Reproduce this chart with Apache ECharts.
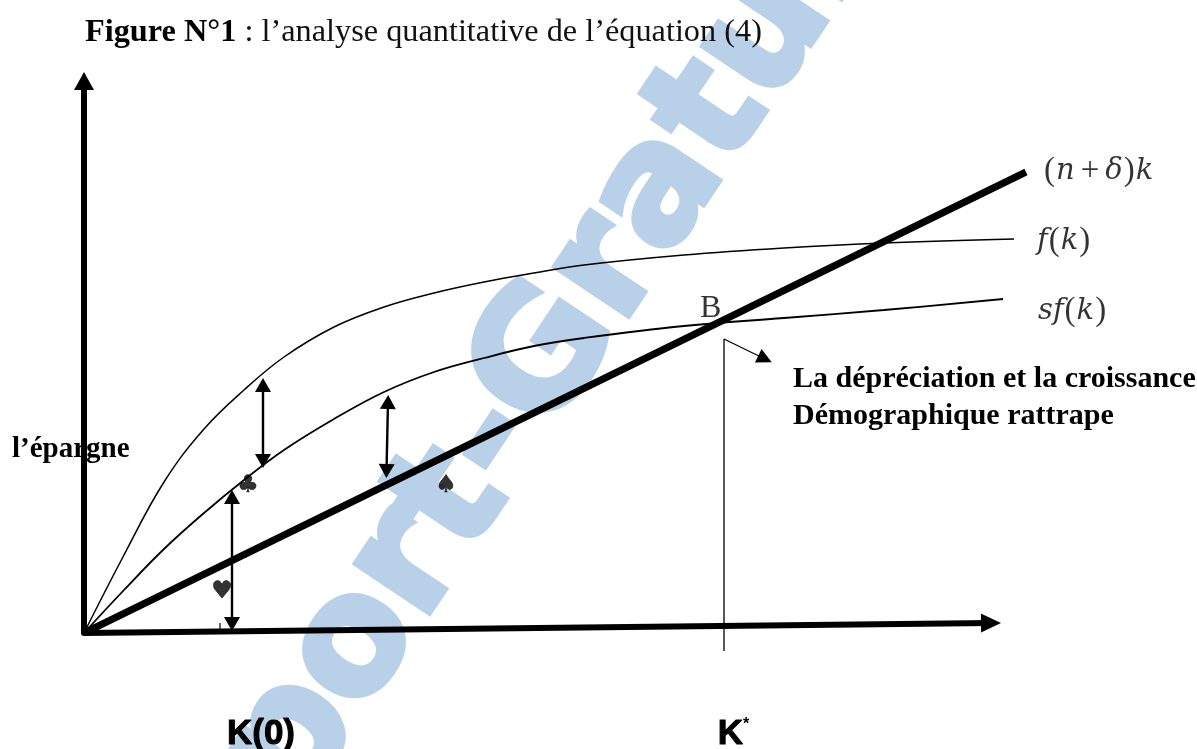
<!DOCTYPE html>
<html>
<head>
<meta charset="utf-8">
<title>Figure N°1</title>
<script src="https://cdn.jsdelivr.net/npm/echarts@6/dist/echarts.min.js"></script>
<style>
  html, body { margin: 0; padding: 0; background: #fff; }
  #chart { width: 1197px; height: 749px; }
</style>
</head>
<body>
<div id="chart"></div>
<script>
// courbes, unites = distance a l'origine
const fk = [[0,0],[40,78],[80,151],[120,204],[160,243],[200,276],[250,306],[300,326],[350,340],[400,351],[450,360],[500,368],[600,378],[700,385],[800,390],[930,394]];
const sfk = [[0,0],[40,43],[80,84],[120,120],[160,153],[200,183],[250,214],[300,241],[350,261],[400,275],[450,287],[500,295],[600,307],[700,315],[800,323],[919,334]];
const droite = [[0,0],[942,461]];
const axeK = [[0,0],[907,10]];
const kTicks = [177, 649.5];
const kLabels = ['K(0)', 'K*'];
const fleches = [
  [[148,136],[148,9]],
  [[179,248],[179,172]],
  [[304,231],[302.5,162]]
];
const repereK = [[640,-18],[640,294],[681,274]];
const tick0 = [[136,1],[136,10]];
const symboles = [[164,147,'♣'],[362,147,'♠'],[138,41,'♥']];
const etiquettes = [
  [959,462,'{u|(}{i|n}{p|+}{i|δ}{u|)}{i|k}'],
  [953,392,'{i|f}{u|(}{i|k}{u|)}'],
  [954,322,'{i|s}{i|f}{u|(}{i|k}{u|)}'],
  [616,324,'{b|B}']
];

const chart = echarts.init(document.getElementById('chart'));
chart.setOption({
  animation: false,
  backgroundColor: '#fff',
  title: {
    left: 80, top: 12,
    text: '{b|Figure N°1} : l’analyse quantitative de l’équation (4)',
    textStyle: {
      fontFamily: 'Liberation Serif', fontSize: 32.3, fontWeight: 'normal', color: '#111',
      rich: { b: { fontFamily: 'Liberation Serif', fontSize: 32.3, fontWeight: 'bold', color: '#000' } }
    }
  },
  grid: { left: 84, top: 81, width: 950, height: 552, outerBoundsMode: 'none' },
  xAxis: {
    type: 'value', min: 0, max: 950,
    splitLine: { show: false },
    axisLine: { show: false },
    axisTick: { show: false },
    axisLabel: {
      show: true,
      customValues: kTicks,
      margin: 84,
      formatter: function (v) {
        const s = kLabels[kTicks.indexOf(v)] || '';
        return s.endsWith('*') ? '{k|' + s.slice(0, -1) + '}{e|*}' : '{k|' + s + '}';
      },
      rich: {
        k: { fontFamily: 'Liberation Sans', fontWeight: 'bold', fontSize: 35, color: '#000', textBorderColor: '#000', textBorderWidth: 1 },
        e: { fontFamily: 'Liberation Sans', fontWeight: 'bold', fontSize: 16, color: '#000', verticalAlign: 'top', padding: [0, 0, 14, 0] }
      }
    }
  },
  yAxis: {
    type: 'value', min: 0, max: 552,
    splitLine: { show: false },
    axisTick: { show: false },
    axisLabel: { show: false },
    axisLine: { show: true, symbol: ['none', 'triangle'], symbolSize: [20, 18], lineStyle: { color: '#000', width: 6 } }
  },
  graphic: [
    {
      type: 'text', x: 469, y: 478, rotation: 0.98, z: 0, silent: true,
      style: {
        text: 'Rapport-Gratuit', fill: '#b9d1e8', stroke: '#b9d1e8', lineWidth: 6, align: 'center', verticalAlign: 'middle',
        fontFamily: 'DejaVu Sans', fontWeight: 'bold', fontSize: 162
      }
    },
    {
      type: 'text', x: 12, y: 435, z: 10,
      style: { text: 'l’épargne', fill: '#000', fontFamily: 'Liberation Serif', fontWeight: 'bold', fontSize: 29 }
    },
    {
      type: 'text', x: 793, y: 361, z: 10,
      style: { text: 'La dépréciation et la croissance\nDémographique rattrape', fill: '#000', lineHeight: 37, fontFamily: 'Liberation Serif', fontWeight: 'bold', fontSize: 30 }
    }
  ],
  series: [
    { name: 'f(k)', type: 'line', data: fk, smooth: 0.4, showSymbol: false, clip: false, lineStyle: { color: '#000', width: 1.5 } },
    { name: 'sf(k)', type: 'line', data: sfk, smooth: 0.4, showSymbol: false, clip: false, lineStyle: { color: '#000', width: 1.8 } },
    { name: '(n+d)k', type: 'line', data: droite, showSymbol: false, clip: false, lineStyle: { color: '#000', width: 7 } },
    {
      name: 'axe k', type: 'line', data: axeK, showSymbol: false, clip: false,
      lineStyle: { color: '#000', width: 6 },
      markLine: {
        silent: true, animation: false, precision: 1,
        symbol: ['none', 'triangle'], symbolSize: [19, 20],
        label: { show: false },
        lineStyle: { color: '#000', width: 6, type: 'solid' },
        data: [[{ coord: [900, 9.92] }, { coord: [907, 10] }]]
      }
    },
    {
      name: 'fleches', type: 'line', data: [], showSymbol: false,
      markLine: {
        silent: true, animation: false, precision: 1,
        symbol: ['triangle', 'triangle'], symbolSize: [16, 14],
        label: { show: false },
        lineStyle: { color: '#000', width: 2.4, type: 'solid' },
        data: fleches.map(f => [{ coord: f[0] }, { coord: f[1] }])
      }
    },
    { name: 'repere', type: 'line', data: repereK.slice(0, 2), showSymbol: false, clip: false, lineStyle: { color: '#000', width: 1.3 } },
    {
      name: 'repere fleche', type: 'line', data: [], showSymbol: false,
      markLine: {
        silent: true, animation: false, precision: 1,
        symbol: ['none', 'triangle'], symbolSize: [15, 15],
        label: { show: false },
        lineStyle: { color: '#000', width: 1.3, type: 'solid' },
        data: [[{ coord: repereK[1] }, { coord: repereK[2] }]]
      }
    },
    { name: 'tick', type: 'line', data: tick0, showSymbol: false, lineStyle: { color: '#000', width: 1.2 } },
    {
      name: 'symboles', type: 'scatter', data: symboles, symbolSize: 0, clip: false,
      label: {
        show: true, position: 'inside', formatter: p => p.value[2],
        fontFamily: 'DejaVu Sans', fontSize: 24, color: '#000', textBorderColor: '#000', textBorderWidth: 0.6
      }
    },
    {
      name: 'etiquettes', type: 'scatter', data: etiquettes, symbolSize: 0, clip: false,
      label: {
        show: true, position: 'right', distance: 0, formatter: p => p.value[2],
        rich: {
          i: { fontFamily: 'DejaVu Serif', fontStyle: 'italic', fontSize: 29, color: '#000' },
          u: { fontFamily: 'Liberation Serif', fontSize: 33, color: '#000', padding: [0, 1] },
          p: { fontFamily: 'Liberation Serif', fontSize: 33, color: '#000', padding: [0, 6] },
          b: { fontFamily: 'Liberation Serif', fontSize: 32, color: '#000' }
        }
      }
    }
  ]
});
</script>
</body>
</html>
